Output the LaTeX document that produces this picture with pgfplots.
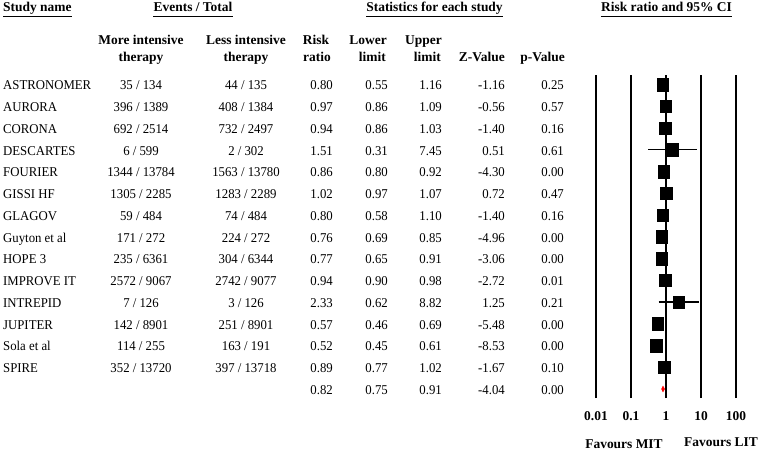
\documentclass[border=0pt]{standalone}
\usepackage{fontspec}
\setmainfont{Liberation Serif}
\newfontfamily\rfont{Liberation Serif}[FakeStretch=0.95]
\usepackage{pgfplots}
\pgfplotsset{compat=1.18}
\newcommand{\datarow}[9]{%
  \pgfmathsetmacro{\yb}{-(90+21.75*#1)}%
  \node[t, anchor=base west] at (3,\yb) {#2};
  \node[t, anchor=base] at (141,\yb) {#3};
  \node[t, anchor=base] at (246,\yb) {#4};
  \node[t, anchor=base east] at (333,\yb) {#5};
  \node[t, anchor=base east] at (388,\yb) {#6};
  \node[t, anchor=base east] at (442,\yb) {#7};
  \node[t, anchor=base east] at (505,\yb) {#8};
  \node[t, anchor=base east] at (564,\yb) {#9};
}
\begin{document}
\fontsize{13.5}{16}\selectfont
\begin{tikzpicture}[x=1bp,y=1bp,
  t/.style={inner sep=0pt, font=\rfont\fontsize{13.5}{16}\selectfont},
  hb/.style={inner sep=0pt, font=\bfseries\fontsize{13.5}{16}\selectfont},
  hd/.style={inner sep=0pt, font=\bfseries\fontsize{13.5}{16}\selectfont, text depth=3.6bp}]
\path (0,0) rectangle (760,-452);
% top headers
\node[hd, anchor=base west] (h1) at (3,-12) {Study name};
\node[hd, anchor=base] (h2) at (193,-12) {Events / Total};
\node[hd, anchor=base] (h3) at (434.5,-12) {Statistics for each study};
\node[hd, anchor=base] (h4) at (666.5,-12) {Risk ratio and 95\% CI};
\foreach \h in {h1,h2,h3,h4}{
  \draw[line width=0.9bp] ([yshift=-0.6bp]\h.south west) -- ([yshift=-0.6bp]\h.south east);
}
% column headers
\node[hb, anchor=base] at (141,-45) {More intensive};
\node[hb, anchor=base] at (141,-61.5) {therapy};
\node[hb, anchor=base] at (246,-45) {Less intensive};
\node[hb, anchor=base] at (246,-61.5) {therapy};
\node[hb, anchor=base] at (316,-45) {Risk};
\node[hb, anchor=base] at (317,-61.5) {ratio};
\node[hb, anchor=base east] at (387,-45) {Lower};
\node[hb, anchor=base east] at (386,-61.5) {limit};
\node[hb, anchor=base east] at (442,-45) {Upper};
\node[hb, anchor=base east] at (441,-61.5) {limit};
\node[hb, anchor=base east] at (505,-61.5) {Z-Value};
\node[hb, anchor=base east] at (565,-61.5) {p-Value};
% rows
\datarow{0}{ASTRONOMER}{35 / 134}{44 / 135}{0.80}{0.55}{1.16}{-1.16}{0.25}
\datarow{1}{AURORA}{396 / 1389}{408 / 1384}{0.97}{0.86}{1.09}{-0.56}{0.57}
\datarow{2}{CORONA}{692 / 2514}{732 / 2497}{0.94}{0.86}{1.03}{-1.40}{0.16}
\datarow{3}{DESCARTES}{6 / 599}{2 / 302}{1.51}{0.31}{7.45}{0.51}{0.61}
\datarow{4}{FOURIER}{1344 / 13784}{1563 / 13780}{0.86}{0.80}{0.92}{-4.30}{0.00}
\datarow{5}{GISSI HF}{1305 / 2285}{1283 / 2289}{1.02}{0.97}{1.07}{0.72}{0.47}
\datarow{6}{GLAGOV}{59 / 484}{74 / 484}{0.80}{0.58}{1.10}{-1.40}{0.16}
\datarow{7}{Guyton et al}{171 / 272}{224 / 272}{0.76}{0.69}{0.85}{-4.96}{0.00}
\datarow{8}{HOPE 3}{235 / 6361}{304 / 6344}{0.77}{0.65}{0.91}{-3.06}{0.00}
\datarow{9}{IMPROVE IT}{2572 / 9067}{2742 / 9077}{0.94}{0.90}{0.98}{-2.72}{0.01}
\datarow{10}{INTREPID}{7 / 126}{3 / 126}{2.33}{0.62}{8.82}{1.25}{0.21}
\datarow{11}{JUPITER}{142 / 8901}{251 / 8901}{0.57}{0.46}{0.69}{-5.48}{0.00}
\datarow{12}{Sola et al}{114 / 255}{163 / 191}{0.52}{0.45}{0.61}{-8.53}{0.00}
\datarow{13}{SPIRE}{352 / 13720}{397 / 13718}{0.89}{0.77}{1.02}{-1.67}{0.10}
\datarow{14}{}{}{}{0.82}{0.75}{0.91}{-4.04}{0.00}
% favours
\node[hb, anchor=base] at (624,-448) {Favours MIT};
\node[hb, anchor=base] at (721,-446.5) {Favours LIT};
\begin{axis}[
  at={(596bp,-398bp)}, anchor=south west,
  scale only axis, width=140bp, height=323bp,
  xmode=log, xmin=0.01, xmax=100, ymin=-14.414, ymax=0.437,
  enlargelimits=false, axis line style={draw=none},
  xtick={0.01,0.1,1,10,100}, xticklabels={0.01,0.1,1,10,100},
  xticklabel style={font=\bfseries\fontsize{13.5}{16}\selectfont, yshift=-9bp},
  ytick=\empty, major tick length=0pt, minor tick length=0pt,
  xmajorgrids, grid style={black, line width=1.1pt},
  clip=false, unbounded coords=jump,
]
\addplot[black, line width=1.1pt] coordinates {
 (0.55,0) (1.16,0) (nan,nan)
 (0.86,-1) (1.09,-1) (nan,nan)
 (0.86,-2) (1.03,-2) (nan,nan)
 (0.31,-3) (7.45,-3) (nan,nan)
 (0.80,-4) (0.92,-4) (nan,nan)
 (0.97,-5) (1.07,-5) (nan,nan)
 (0.58,-6) (1.10,-6) (nan,nan)
 (0.69,-7) (0.85,-7) (nan,nan)
 (0.65,-8) (0.91,-8) (nan,nan)
 (0.90,-9) (0.98,-9) (nan,nan)
 (0.62,-10) (8.82,-10) (nan,nan)
 (0.46,-11) (0.69,-11) (nan,nan)
 (0.45,-12) (0.61,-12) (nan,nan)
 (0.77,-13) (1.02,-13)
};
\addplot[only marks, mark=square*, mark size=6.3pt, mark options={black, xscale=0.9}] coordinates {
 (0.80,0) (0.97,-1) (0.94,-2) (1.51,-3) (0.86,-4) (1.02,-5) (0.80,-6)
 (0.76,-7) (0.77,-8) (0.94,-9) (2.33,-10) (0.57,-11) (0.52,-12) (0.89,-13)
};
\addplot[red, fill=red, line width=0.5pt] coordinates {
 (0.75,-14) (0.82,-13.87) (0.91,-14) (0.82,-14.13) (0.75,-14)
};
\end{axis}
\end{tikzpicture}
\end{document}
